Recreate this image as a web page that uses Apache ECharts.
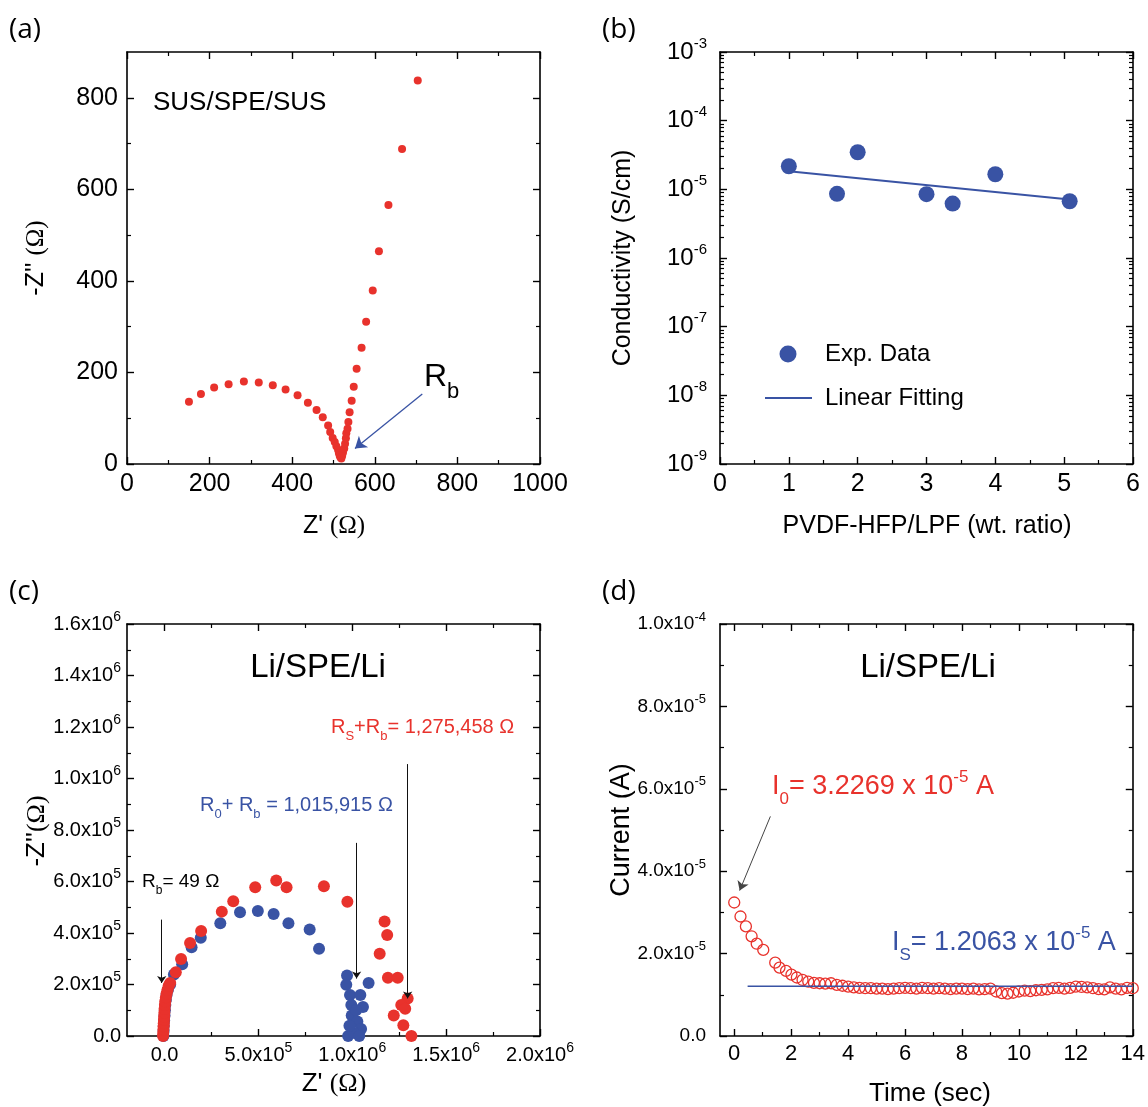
<!DOCTYPE html>
<html><head><meta charset="utf-8">
<script src="https://cdn.jsdelivr.net/npm/echarts@6/dist/echarts.min.js"></script>
<style>html,body{margin:0;padding:0;background:#fff}#c{width:1148px;height:1107px}</style>
</head><body><div id="c"></div>
<script>
// ---------- Panel (a): SUS/SPE/SUS Nyquist ----------
const aZre = [150,179,211,246,283,319,353,384,413,438,459,474,487,492,498,503,507,511,513,515,517,519,521,523,526,528,530,531,534,536,539,544,549,556,568,579,595,610,633,666,704];
const aZim = [136,153,167,174,180,178,172,163,150,134,118,102,84,70,57,48,39,31,24,18,14,12,18,25,34,44,56,67,77,92,113,138,169,208,254,311,379,465,566,688,838];
const aArrow = [[715,153],[552,34]];
const aXMajor = [0,200,400,600,800,1000], aXMinor = [100,300,500,700,900];
const aYMajor = [0,200,400,600,800], aYMinor = [100,300,500,700];

// ---------- Panel (b): conductivity ----------
const bRatio = [1.0,1.70,2.0,3.0,3.38,4.0,5.08];
const bCond = [2.17e-5,8.6e-6,3.47e-5,8.5e-6,6.2e-6,1.66e-5,6.7e-6];
const bFitX = [1.0,5.08];
const bFitY = [1.84e-5,7.1e-6];
const bXMajor = [0,1,2,3,4,5,6], bXMinor = [0.5,1.5,2.5,3.5,4.5,5.5];
const bYMajor = [1e-9,1e-8,1e-7,1e-6,1e-5,1e-4,1e-3];
const bYMinor = [];
[1e-9,1e-8,1e-7,1e-6,1e-5,1e-4].forEach(d => [2,3,4,5,6,7,8,9].forEach(k => bYMinor.push(d*k)));

// ---------- Panel (c): Li/SPE/Li Nyquist (kOhm) ----------
const cBlueRe = [-6,-5,-4,-2,0,2,4,7,11,18,30,50,94,144,193,297,402,497,581,660,773,823,972,968,988,1043,1087,1057,997,1027,1047,978,1008,1037,995,1020,985];
const cBlueIm = [0,20,40,60,80,100,120,140,160,180,200,239,279,345,382,438,481,485,474,438,414,339,235,199,159,159,206,113,80,56,27,0,13,0,120,100,40];
const cRedRe = [-8,-7,-6,-5,-4,-3,-2,-1,0,2,4,7,11,16,22,30,60,88,136,195,305,366,483,595,650,849,974,1172,1186,1146,1190,1242,1295,1261,1282,1221,1272,1315];
const cRedIm = [0,12,25,38,50,63,76,90,105,120,135,150,165,180,195,206,248,299,361,408,483,523,578,604,578,582,521,445,392,319,226,226,146,120,106,80,42,0];
const cArrows = [[[-15,452],[-15,206]],[[1023,750],[1023,223]],[[1295,1056],[1295,146]]];
const cXMajor = [0,5e5,1e6,1.5e6,2e6], cXMinor = [2.5e5,7.5e5,1.25e6,1.75e6];
const cYMajor = [0,2e5,4e5,6e5,8e5,1e6,1.2e6,1.4e6,1.6e6], cYMinor = [1e5,3e5,5e5,7e5,9e5,1.1e6,1.3e6,1.5e6];

// ---------- Panel (d): chronoamperometry (1e-5 A) ----------
const dTime = [0,0.22,0.41,0.61,0.79,1.02,1.44,1.59,1.82,2.01,
  2.2,2.4,2.6,2.8,3.0,3.2,3.4,3.6,3.8,4.0,
  4.2,4.4,4.6,4.8,5.0,5.2,5.4,5.6,5.8,6.0,
  6.2,6.4,6.6,6.8,7.0,7.2,7.4,7.6,7.8,8.0,
  8.2,8.4,8.6,8.8,9.0,9.2,9.4,9.6,9.8,10.0,
  10.2,10.4,10.6,10.8,11.0,11.2,11.4,11.6,11.8,12.0,
  12.2,12.4,12.6,12.8,13.0,13.2,13.4,13.6,13.8,14.0];
const dCurrent = [3.24,2.90,2.66,2.42,2.24,2.09,1.78,1.66,1.58,1.49,
  1.42,1.36,1.32,1.29,1.28,1.27,1.28,1.24,1.22,1.20,
  1.18,1.17,1.16,1.16,1.15,1.15,1.14,1.15,1.16,1.17,
  1.16,1.15,1.17,1.16,1.15,1.16,1.15,1.14,1.15,1.15,
  1.14,1.15,1.13,1.14,1.15,1.08,1.04,1.03,1.05,1.08,
  1.10,1.09,1.11,1.12,1.13,1.16,1.17,1.15,1.17,1.20,
  1.19,1.18,1.16,1.14,1.13,1.18,1.15,1.13,1.17,1.16];
const dIs = 1.2063e-5, dIsRange = [0.47,14];
const dArrow = [[1.27,5.33e-5],[0.19,3.53e-5]];
const dXMajor = [0,2,4,6,8,10,12,14], dXMinor = [1,3,5,7,9,11,13];
const dYMajor = [0,2e-5,4e-5,6e-5,8e-5,1e-4], dYMinor = [1e-5,3e-5,5e-5,7e-5,9e-5];

// ---------- styling ----------
const FF = "'Liberation Sans', Arial, sans-serif";
const RED = '#e8322c', BLUE = '#3953a4';
const grids = [
  {left:127, top:52, width:413, height:412},
  {left:720, top:52, width:413, height:412},
  {left:127, top:624, width:413, height:412},
  {left:720, top:624, width:413, height:412}
];

function sci(v){
  if (v === 0) return '{b|0.0}';
  const e = Math.floor(Math.log10(Math.abs(v)) + 1e-9);
  const m = v / Math.pow(10, e);
  return '{b|' + m.toFixed(1) + 'x10}{s|' + e + '}';
}
function plain(v){ return String(v); }
function supRich(fs, ss){
  return {
    b:{fontSize:fs, fontFamily:FF, color:'#000', lineHeight:Math.round(ss+0.72*fs), verticalAlign:'middle'},
    s:{fontSize:ss, fontFamily:FF, color:'#000', lineHeight:ss, verticalAlign:'top'}
  };
}
function axes(dim, gi, o){
  const pos = dim === 'x' ? ['bottom','top'] : ['left','right'];
  const list = [];
  pos.forEach((p, k) => {
    const base = {type:o.type||'value', gridIndex:gi, min:o.min, max:o.max, position:p,
      splitLine:{show:false}, minorTick:{show:false}, axisPointer:{show:false}};
    if (o.type === 'log') base.logBase = 10;
    list.push(Object.assign({}, base, {
      axisLine:{show:true, onZero:false, lineStyle:{color:'#000', width:1.6}},
      axisTick:{show:true, inside:true, length:7, customValues:o.major, lineStyle:{color:'#000', width:1.4}},
      axisLabel: k === 0 ? Object.assign({show:true, customValues:o.labels||o.major, color:'#000',
          fontFamily:FF, hideOverlap:false, formatter:plain}, o.label) : {show:false}
    }));
    list.push(Object.assign({}, base, {
      axisLine:{show:false, onZero:false},
      axisTick:{show:true, inside:true, length:4, customValues:o.minor, lineStyle:{color:'#000', width:1.2}},
      axisLabel:{show:false}
    }));
  });
  return list;
}

const xAxis = [].concat(
  axes('x',0,{min:0,max:1000,major:aXMajor,minor:aXMinor,label:{fontSize:25,margin:8}}),
  axes('x',1,{min:0,max:6,major:bXMajor,minor:bXMinor,label:{fontSize:25,margin:8}}),
  axes('x',2,{min:-2e5,max:2e6,major:cXMajor,minor:cXMinor,label:{margin:5,formatter:sci,rich:supRich(20,14)}}),
  axes('x',3,{min:-0.5,max:14,major:dXMajor,minor:dXMinor,label:{fontSize:22,margin:7}})
);
const yAxis = [].concat(
  axes('y',0,{min:0,max:900,major:aYMajor,minor:aYMinor,label:{fontSize:25,margin:9}}),
  axes('y',1,{type:'log',min:1e-9,max:1e-3,major:bYMajor,minor:bYMinor,
     label:{margin:13,formatter:v => '{b|10}{s|' + Math.round(Math.log10(v)) + '}', rich:supRich(24,15)}}),
  axes('y',2,{min:0,max:1.6e6,major:cYMajor,minor:cYMinor,label:{margin:6,formatter:sci,rich:supRich(20,14)}}),
  axes('y',3,{min:0,max:1e-4,major:dYMajor,minor:dYMinor,label:{margin:14,formatter:sci,rich:supRich(19,13)}})
);

function arrowLines(list, color, width, size){
  return {silent:true, symbol:['none','arrow'], symbolSize:size, animation:false,
    label:{show:false}, lineStyle:{color:color, width:width, type:'solid', opacity:1},
    emphasis:{disabled:true},
    data: list.map(a => [{coord:a[0]},{coord:a[1]}])};
}

const series = [
  {type:'scatter', xAxisIndex:0, yAxisIndex:0, symbolSize:8, itemStyle:{color:RED, opacity:1},
   data:aZre.map((x,i)=>[x,aZim[i]]), markLine:arrowLines([aArrow], BLUE, 1.3, 11)},
  {type:'line', xAxisIndex:4, yAxisIndex:4, showSymbol:false, lineStyle:{color:BLUE,width:2},
   data:bFitX.map((x,i)=>[x,bFitY[i]])},
  {type:'scatter', xAxisIndex:4, yAxisIndex:4, symbolSize:16, itemStyle:{color:BLUE, opacity:1},
   data:bRatio.map((x,i)=>[x,bCond[i]])},
  {type:'scatter', xAxisIndex:8, yAxisIndex:8, symbolSize:12, itemStyle:{color:BLUE, opacity:1},
   data:cBlueRe.map((x,i)=>[x*1e3,cBlueIm[i]*1e3])},
  {type:'scatter', xAxisIndex:8, yAxisIndex:8, symbolSize:12, itemStyle:{color:RED, opacity:1},
   data:cRedRe.map((x,i)=>[x*1e3,cRedIm[i]*1e3]),
   markLine:arrowLines(cArrows.map(a=>a.map(p=>[p[0]*1e3,p[1]*1e3])), '#111', 1, 7)},
  {type:'line', xAxisIndex:12, yAxisIndex:12, showSymbol:false, lineStyle:{color:BLUE,width:1.6},
   data:dIsRange.map(x=>[x,dIs])},
  {type:'scatter', xAxisIndex:12, yAxisIndex:12, symbolSize:11,
   itemStyle:{color:'rgba(0,0,0,0)', borderColor:RED, borderWidth:1.3, opacity:1},
   data:dTime.map((t,i)=>[t,dCurrent[i]*1e-5]),
   markLine:arrowLines([dArrow], '#444', 1, 9)}
];

function T(x, y, text, o){
  o = o || {};
  const st = {text:text, fill:o.color||'#000', fontSize:o.size||25, fontFamily:o.family||FF,
    align:o.align||'left', textAlign:o.align||'left', verticalAlign:'middle', textVerticalAlign:'middle'};
  if (o.rich) st.rich = o.rich;
  return {type:'text', x:x, y:y, rotation:o.rot||0, silent:true, z:100, style:st};
}
function subRich(fs, ss, color){
  const L = Math.round(ss + 0.92*fs);
  return {
    m:{fontSize:fs, fontFamily:FF, fill:color, color:color, lineHeight:L, verticalAlign:'middle'},
    u:{fontSize:ss, fontFamily:FF, fill:color, color:color, lineHeight:ss, verticalAlign:'bottom'},
    p:{fontSize:ss, fontFamily:FF, fill:color, color:color, lineHeight:ss, verticalAlign:'top', padding:[Math.round(0.1*fs),0,0,0]}
  };
}
function titleRich(fs){
  return {a:{fontSize:fs, fontFamily:FF, fill:'#000', color:'#000'},
          o:{fontSize:fs, fontFamily:"'Liberation Serif', serif", fill:'#000', color:'#000'}};
}
const PL = "'Open Sans', 'DejaVu Sans', sans-serif";
const graphic = [
  T(9,30,'(a)',{size:28,family:PL}),
  T(602,30,'(b)',{size:28,family:PL}),
  T(9,592,'(c)',{size:28,family:PL}),
  T(602,592,'(d)',{size:28,family:PL}),
  // (a)
  T(153,103,'SUS/SPE/SUS',{size:26}),
  T(424,377,'{m|R}{u|b}',{rich:subRich(32,22,'#000')}),
  T(334,526,'{a|Z\' }{o|(Ω)}',{align:'center',rich:titleRich(25)}),
  T(36,258,'{a|-Z\'\' }{o|(Ω)}',{align:'center',rot:Math.PI/2,rich:titleRich(25)}),
  // (b)
  {type:'circle', shape:{cx:788, cy:354, r:8.5}, style:{fill:BLUE}, silent:true, z:100},
  {type:'line', shape:{x1:765, y1:398, x2:812, y2:398}, style:{stroke:BLUE, lineWidth:2}, silent:true, z:100},
  T(825,354,'Exp. Data',{size:24}),
  T(825,398,'Linear Fitting',{size:24}),
  T(927,526,'PVDF-HFP/LPF (wt. ratio)',{align:'center',size:25}),
  T(623,258,'Conductivity (S/cm)',{align:'center',size:25,rot:Math.PI/2}),
  // (c)
  T(318,668,'Li/SPE/Li',{align:'center',size:33}),
  T(331,727,'{m|R}{u|S}{m|+R}{u|b}{m|= 1,275,458 Ω}',{color:RED,rich:subRich(20,13,RED)}),
  T(200,805,'{m|R}{u|0}{m|+ R}{u|b}{m| = 1,015,915 Ω}',{color:BLUE,rich:subRich(20,13,BLUE)}),
  T(142,882,'{m|R}{u|b}{m|= 49 Ω}',{rich:subRich(19,12,'#000')}),
  T(334,1084,'{a|Z\' }{o|(Ω)}',{align:'center',rich:titleRich(26)}),
  T(37,831,'{a|-Z\'\'}{o|(Ω)}',{align:'center',rot:Math.PI/2,rich:titleRich(26)}),
  // (d)
  T(928,668,'Li/SPE/Li',{align:'center',size:33}),
  T(772,787,'{m|I}{u|0}{m|= 3.2269 x 10}{p|-5}{m| A}',{color:RED,rich:subRich(27,17,RED)}),
  T(892,943,'{m|I}{u|S}{m|= 1.2063 x 10}{p|-5}{m| A}',{color:BLUE,rich:subRich(27,17,BLUE)}),
  T(930,1094,'Time (sec)',{align:'center',size:26}),
  T(622,830,'Current (A)',{align:'center',size:27,rot:Math.PI/2})
];

const chart = echarts.init(document.getElementById('c'), null, {renderer:'canvas'});
chart.setOption({
  animation:false,
  backgroundColor:'#fff',
  grid:grids,
  xAxis:xAxis,
  yAxis:yAxis,
  series:series,
  graphic:graphic
});
</script></body></html>
